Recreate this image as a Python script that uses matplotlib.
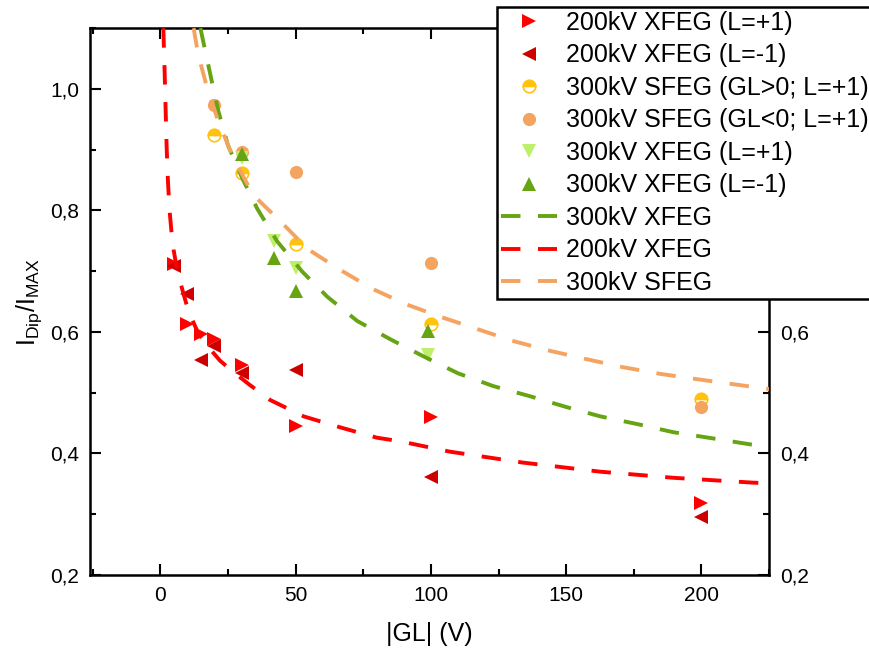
import matplotlib
matplotlib.use("Agg")
import matplotlib.pyplot as plt
from matplotlib.ticker import FuncFormatter, MultipleLocator

plt.rcParams['font.family'] = ['Liberation Sans', 'DejaVu Sans']

# 200kV XFEG measurements
x200_p = [5, 10, 15, 20, 30, 50, 100, 200]
y200_p = [0.712, 0.613, 0.597, 0.588, 0.545, 0.446, 0.460, 0.319]
x200_m = [5, 10, 15, 20, 30, 50, 100, 200]
y200_m = [0.708, 0.663, 0.554, 0.577, 0.532, 0.537, 0.362, 0.296]

# 300kV SFEG measurements
xs_pos = [20, 30, 50, 100, 200]
ys_pos = [0.924, 0.861, 0.745, 0.613, 0.489]
xs_neg = [20, 30, 50, 100, 200]
ys_neg = [0.973, 0.897, 0.864, 0.714, 0.476]

# 300kV XFEG measurements
x300_p = [30, 42, 50, 99]
y300_p = [0.886, 0.750, 0.706, 0.562]
x300_m = [30, 42, 50, 99]
y300_m = [0.893, 0.722, 0.668, 0.602]

# fit curves
fit300x_x = [14.8, 18.5, 21.4, 25, 30.3, 35.8, 43.2, 52.5, 61.7, 72.8, 85, 97.2,
             110, 123, 136.8, 150.4, 162.7, 176.7, 189.6, 204, 218, 225]
fit300x_y = [1.10, 1.023, 0.964, 0.907, 0.853, 0.803, 0.749, 0.699, 0.658, 0.618, 0.588, 0.560,
             0.532, 0.511, 0.494, 0.476, 0.461, 0.448, 0.435, 0.425, 0.415, 0.412]
fit200x_x = [1.1, 1.5, 1.9, 2.3, 2.8, 3.4, 4.1, 4.9, 5.8, 6.8, 8.1, 9.5, 11, 14, 17.4, 22, 27,
             33, 40.6, 53, 66.5, 80, 88.7, 107, 134, 162.7, 189.6, 219, 225]
fit200x_y = [1.10, 1.04, 0.974, 0.907, 0.848, 0.800, 0.765, 0.735, 0.712, 0.692, 0.670, 0.648,
             0.628, 0.598, 0.577, 0.553, 0.534, 0.513, 0.488, 0.461, 0.443, 0.426, 0.420, 0.403,
             0.385, 0.370, 0.360, 0.352, 0.351]
fit300s_x = [12.3, 14, 17.4, 21.4, 27, 34.4, 44.4, 54.3, 65.8, 78.4, 90.6, 103.5, 117,
             130.5, 144, 157.8, 171, 184.8, 198.9, 211.8, 225]
fit300s_y = [1.10, 1.056, 1.0, 0.947, 0.886, 0.825, 0.782, 0.737, 0.704, 0.671, 0.646, 0.625, 0.605,
             0.585, 0.569, 0.555, 0.542, 0.531, 0.522, 0.514, 0.506]

RED = '#ff0000'
DRED = '#cc0000'
GOLD = '#ffc20e'
SAND = '#f4a460'
LGREEN = '#bdf06a'
DGREEN = '#66a413'

fig = plt.figure(figsize=(8.69, 6.56), dpi=100)
ax = fig.add_axes([0.1036, 0.1235, 0.7814, 0.8335])

ms = 10
h1, = ax.plot(x200_p, y200_p, '>', color=RED, ms=ms, ls='none', mew=0, label='200kV XFEG (L=+1)')
h2, = ax.plot(x200_m, y200_m, '<', color=DRED, ms=ms, ls='none', mew=0, label='200kV XFEG (L=-1)')
h3, = ax.plot(xs_pos, ys_pos, 'o', ms=9, ls='none', fillstyle='top', color=GOLD,
              markerfacecoloralt='white', mec=GOLD, mew=1.2, label='300kV SFEG (GL>0; L=+1)')
h4, = ax.plot(xs_neg, ys_neg, 'o', color=SAND, ms=9.5, ls='none', mew=0, label='300kV SFEG (GL<0; L=+1)')
h5, = ax.plot(x300_p, y300_p, 'v', color=LGREEN, ms=ms, ls='none', mew=0, label='300kV XFEG (L=+1)')
h6, = ax.plot(x300_m, y300_m, '^', color=DGREEN, ms=ms, ls='none', mew=0, label='300kV XFEG (L=-1)')

dash = (5, 4.5)
h7, = ax.plot(fit300x_x, fit300x_y, color=DGREEN, lw=2.8, dashes=dash, label='300kV XFEG', zorder=4)
h8, = ax.plot(fit200x_x, fit200x_y, color=RED, lw=2.8, dashes=dash, label='200kV XFEG', zorder=4)
h9, = ax.plot(fit300s_x, fit300s_y, color=SAND, lw=2.8, dashes=dash, label='300kV SFEG', zorder=4)

ax.set_xlim(-26, 225)
ax.set_ylim(0.2, 1.1)
ax.xaxis.set_major_locator(MultipleLocator(50))
ax.xaxis.set_minor_locator(MultipleLocator(25))
ax.yaxis.set_major_locator(MultipleLocator(0.2))
ax.yaxis.set_minor_locator(MultipleLocator(0.1))
ax.yaxis.set_major_formatter(FuncFormatter(lambda v, p: f'{v:.1f}'.replace('.', ',')))

ax.tick_params(which='both', direction='in', top=True, right=True, labelright=True,
               labelsize=15, width=1.5, pad=8)
ax.tick_params(which='major', length=8)
ax.tick_params(which='minor', length=4)
for s in ax.spines.values():
    s.set_linewidth(1.8)

ax.set_xlabel('|GL| (V)', fontsize=18, labelpad=12)
ax.set_ylabel(r'I$_{\mathregular{Dip}}$/I$_{\mathregular{MAX}}$', fontsize=18, labelpad=4)

leg = fig.legend(handles=[h1, h2, h3, h4, h5, h6, h7, h8, h9], loc='upper left',
                 bbox_to_anchor=(497 / 869, 1 - 7 / 656), fontsize=18, frameon=True,
                 fancybox=False, edgecolor='black', framealpha=1, borderpad=0.15,
                 labelspacing=0.34, handlelength=2.25, handletextpad=0.35, borderaxespad=0)
leg.get_frame().set_linewidth(1.8)

fig.savefig('out.png', dpi=100)
